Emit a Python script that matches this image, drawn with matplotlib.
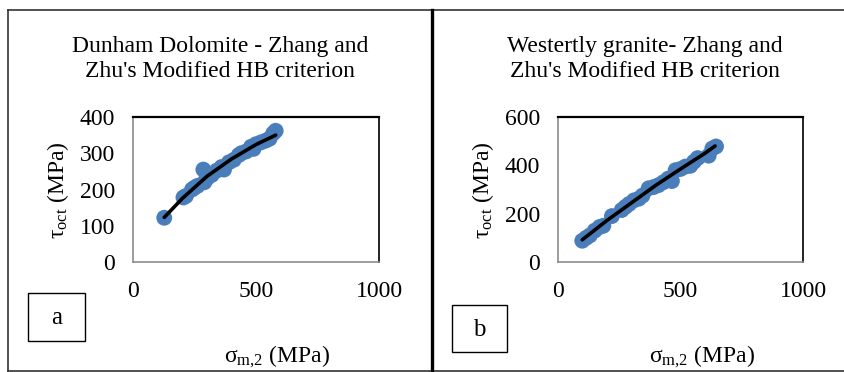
import matplotlib
matplotlib.use("Agg")
import matplotlib.pyplot as plt
from matplotlib.lines import Line2D
from matplotlib.patches import Rectangle

plt.rcParams['font.family'] = ['Liberation Serif', 'DejaVu Serif']
plt.rcParams['mathtext.fontset'] = 'custom'
plt.rcParams['mathtext.rm'] = 'Liberation Serif'
plt.rcParams['mathtext.it'] = 'Liberation Serif:italic'

# ---- data: panel a (Dunham Dolomite) ----
a_sigma = [127, 205, 215, 240, 250, 262, 286, 290, 300, 320, 340, 360, 370, 390,
           410, 430, 440, 460, 480, 490, 500, 520, 540, 555, 570, 580]
a_tau = [122, 178, 182, 200, 205, 210, 255, 220, 230, 240, 252, 262, 255, 275,
         282, 295, 300, 305, 318, 312, 325, 330, 335, 340, 355, 362]
a_fit_sigma = [127, 200, 300, 400, 500, 580]
a_fit_tau = [123, 175, 236, 284, 324, 350]

# ---- data: panel b (Westerly granite) ----
b_sigma = [99, 115, 130, 150, 170, 185, 220, 260, 275, 290, 310, 330, 345, 370,
           390, 410, 430, 450, 465, 480, 500, 520, 540, 555, 570, 615, 630, 645]
b_tau = [88, 100, 110, 130, 145, 150, 190, 215, 228, 240, 255, 262, 275, 305,
         310, 318, 330, 345, 335, 380, 385, 395, 398, 415, 430, 440, 470, 478]
b_fit_sigma = [99, 200, 300, 400, 500, 600, 641]
b_fit_tau = [92, 172, 245, 318, 385, 450, 480]

a_title = "Dunham Dolomite - Zhang and\nZhu's Modified HB criterion"
b_title = "Westertly granite- Zhang and\nZhu's Modified HB criterion"
x_ticks = [0, 500, 1000]
a_yticks = [0, 100, 200, 300, 400]
b_yticks = [0, 200, 400, 600]

W, H = 845, 372
fig = plt.figure(figsize=(W / 100, H / 100), dpi=100)

def fx(px):
    return px / W

def fy(py):
    return 1 - py / H

BLUE = '#4A7EBB'
FS = 17

def panel(ax_left, ax_width, xs, ys, fxs, fys, yticks, ymax, title, tcx, ylab_x, xlab_x,
          box, letter):
    ax = fig.add_axes([fx(ax_left), fy(262), fx(ax_width), (262 - 117) / H])
    ax.scatter(xs, ys, s=130, color=BLUE, edgecolors='none', zorder=2)
    ax.plot(fxs, fys, color='black', lw=2.6, zorder=3, solid_capstyle='round')
    ax.set_xlim(0, 1000)
    ax.set_ylim(0, ymax)
    ax.set_xticks(x_ticks)
    ax.set_yticks(yticks)
    ax.tick_params(length=0, labelsize=FS)
    ax.tick_params(axis='y', pad=13)
    ax.tick_params(axis='x', pad=14)
    for s in ('left', 'bottom'):
        ax.spines[s].set_color('#8C8C8C')
        ax.spines[s].set_linewidth(1.2)
    ax.spines['top'].set_color('black')
    ax.spines['top'].set_linewidth(1.6)
    ax.spines['right'].set_color('#222222')
    ax.spines['right'].set_linewidth(1.4)
    fig.text(fx(tcx), fy(59), title, ha='center', va='center', fontsize=FS,
             linespacing=1.3)
    fig.text(fx(ylab_x), fy(190), 'τ$_{\\mathrm{oct}}$ (MPa)', rotation=90,
             ha='center', va='center', fontsize=FS)
    fig.text(fx(xlab_x), fy(357), 'σ$_{\\mathrm{m{,}2}}$ (MPa)', ha='center',
             va='center', fontsize=FS)
    x0, y0, x1, y1 = box
    fig.add_artist(Rectangle((fx(x0), fy(y1)), fx(x1 - x0), (y1 - y0) / H,
                             transform=fig.transFigure, fill=False,
                             edgecolor='black', lw=1.0))
    fig.text(fx((x0 + x1) / 2), fy((y0 + y1) / 2 + 1), letter, ha='center',
             va='center', fontsize=FS + 1)
    return ax

panel(133, 246, a_sigma, a_tau, a_fit_sigma, a_fit_tau, a_yticks, 400,
      a_title, 220, 58, 277, (28, 293, 85, 341), 'a')
panel(558, 245, b_sigma, b_tau, b_fit_sigma, b_fit_tau, b_yticks, 600,
      b_title, 645, 483, 702, (452, 305, 507, 352), 'b')

# outer frame lines
fig.add_artist(Line2D([fx(8), 1], [fy(10), fy(10)], transform=fig.transFigure,
                      color='#333333', lw=1.2))
fig.add_artist(Line2D([fx(8), 1], [fy(370.5), fy(370.5)], transform=fig.transFigure,
                      color='#333333', lw=1.2))
fig.add_artist(Line2D([fx(8.5), fx(8.5)], [fy(10), fy(370.5)], transform=fig.transFigure,
                      color='#333333', lw=1.2))
fig.add_artist(Line2D([fx(432.3), fx(432.3)], [fy(10), fy(370.5)], transform=fig.transFigure,
                      color='black', lw=2.4))

fig.savefig('out.png', dpi=100)
